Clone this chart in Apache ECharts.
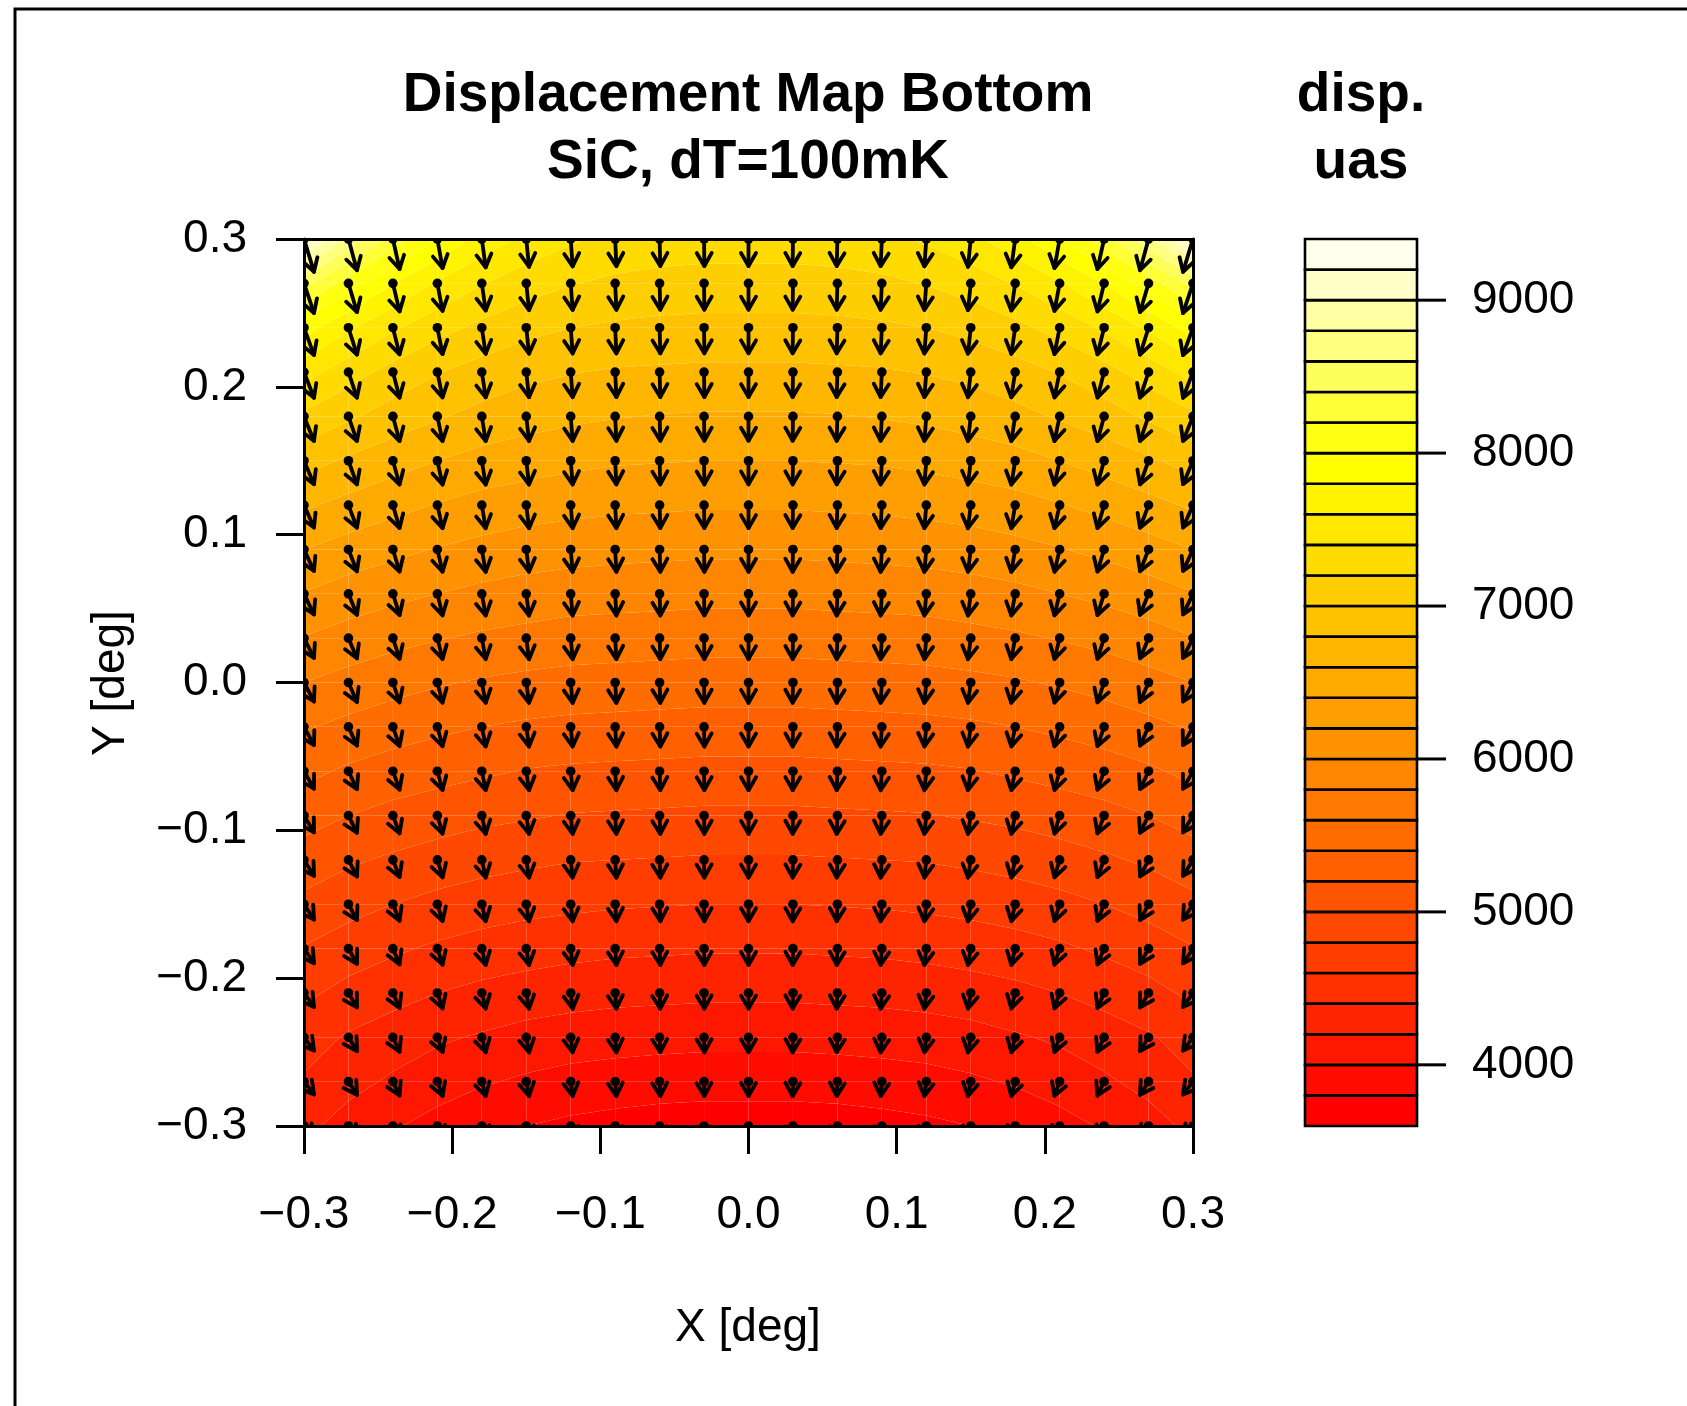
<!DOCTYPE html>
<html>
<head>
<meta charset="utf-8">
<script src="https://cdn.jsdelivr.net/npm/echarts@6/dist/echarts.min.js"></script>
<style>
  html, body { margin: 0; padding: 0; background: #ffffff; }
  #chart { width: 1687px; height: 1406px; }
</style>
</head>
<body>
<div id="chart"></div>
<script>
// Field-of-view sample grid (degrees)
const gridX = [-0.30, -0.27, -0.24, -0.21, -0.18, -0.15, -0.12, -0.09, -0.06, -0.03, 0.00,
               0.03, 0.06, 0.09, 0.12, 0.15, 0.18, 0.21, 0.24, 0.27, 0.30];
const gridY = [0.30, 0.27, 0.24, 0.21, 0.18, 0.15, 0.12, 0.09, 0.06, 0.03, 0.00,
               -0.03, -0.06, -0.09, -0.12, -0.15, -0.18, -0.21, -0.24, -0.27, -0.30];

// Displacement magnitude (uas), one row per gridY entry, columns follow gridX
const dispMagnitude = [
  [9300,8760,8320,7990,7730,7550,7430,7350,7320,7300,7300,7300,7320,7350,7430,7550,7730,7990,8320,8760,9300],
  [8470,8100,7810,7580,7410,7290,7210,7160,7130,7120,7120,7120,7130,7160,7210,7290,7410,7580,7810,8100,8470],
  [7890,7630,7430,7270,7150,7060,7000,6970,6950,6940,6940,6940,6950,6970,7000,7060,7150,7270,7430,7630,7890],
  [7480,7290,7130,7010,6920,6850,6810,6780,6770,6760,6760,6760,6770,6780,6810,6850,6920,7010,7130,7290,7480],
  [7160,7030,6910,6820,6740,6680,6640,6610,6590,6580,6580,6580,6590,6610,6640,6680,6740,6820,6910,7030,7160],
  [6880,6770,6680,6600,6530,6490,6450,6420,6410,6400,6400,6400,6410,6420,6450,6490,6530,6600,6680,6770,6880],
  [6630,6540,6460,6390,6330,6290,6260,6240,6230,6220,6220,6220,6230,6240,6260,6290,6330,6390,6460,6540,6630],
  [6400,6320,6250,6190,6140,6100,6080,6060,6050,6040,6040,6040,6050,6060,6080,6100,6140,6190,6250,6320,6400],
  [6190,6110,6050,6000,5950,5920,5890,5880,5870,5860,5860,5860,5870,5880,5890,5920,5950,6000,6050,6110,6190],
  [5990,5920,5860,5810,5770,5740,5710,5700,5690,5680,5680,5680,5690,5700,5710,5740,5770,5810,5860,5920,5990],
  [5800,5730,5670,5620,5580,5550,5530,5520,5510,5500,5500,5500,5510,5520,5530,5550,5580,5620,5670,5730,5800],
  [5620,5550,5490,5440,5400,5370,5350,5340,5330,5320,5320,5320,5330,5340,5350,5370,5400,5440,5490,5550,5620],
  [5450,5370,5310,5270,5230,5190,5170,5160,5150,5140,5140,5140,5150,5160,5170,5190,5230,5270,5310,5370,5450],
  [5280,5200,5140,5090,5050,5020,4990,4980,4970,4960,4960,4960,4970,4980,4990,5020,5050,5090,5140,5200,5280],
  [5110,5030,4970,4920,4870,4840,4810,4800,4790,4780,4780,4780,4790,4800,4810,4840,4870,4920,4970,5030,5110],
  [4950,4870,4800,4740,4700,4660,4640,4620,4610,4600,4600,4600,4610,4620,4640,4660,4700,4740,4800,4870,4950],
  [4790,4700,4630,4570,4520,4490,4460,4440,4430,4420,4420,4420,4430,4440,4460,4490,4520,4570,4630,4700,4790],
  [4640,4540,4470,4400,4350,4310,4280,4260,4250,4240,4240,4240,4250,4260,4280,4310,4350,4400,4470,4540,4640],
  [4480,4380,4300,4230,4180,4130,4100,4080,4070,4060,4060,4060,4070,4080,4100,4130,4180,4230,4300,4380,4480],
  [4380,4260,4170,4090,4020,3970,3930,3910,3890,3880,3880,3880,3890,3910,3930,3970,4020,4090,4170,4260,4380],
  [4250,4120,4020,3930,3850,3800,3760,3730,3710,3700,3700,3700,3710,3730,3760,3800,3850,3930,4020,4120,4250]
];

// Horizontal displacement component per column (uas, positive = +X)
const dispX = [2700, 2300, 1800, 1400, 1050, 750, 520, 330, 190, 80, 0,
               -80, -190, -330, -520, -750, -1050, -1400, -1800, -2300, -2700];

// Filled-contour break points (uas)
const contourLevels = [3600, 3800, 4000, 4200, 4400, 4600, 4800, 5000, 5200, 5400,
                       5600, 5800, 6000, 6200, 6400, 6600, 6800, 7000, 7200, 7400,
                       7600, 7800, 8000, 8200, 8400, 8600, 8800, 9000, 9200, 9400];

const axisTicks = [-0.3, -0.2, -0.1, 0.0, 0.1, 0.2, 0.3];
const keyTicks = [4000, 5000, 6000, 7000, 8000, 9000];

const FONT = 'Liberation Sans, Arial, Helvetica, sans-serif';
const ARROW_SCALE = 2.5e-6;   // degrees drawn per uas of displacement
const HEAD_LEN = 15;          // arrowhead barb length, px
const HEAD_ANGLE = Math.PI / 6;
const ARROW_W = 3.8;
const DOT_R = 4.8;
const AXIS_W = 3;
const KEY_TICK_LEN = 29;

// heat.colors(n) palette: red -> yellow -> pale yellow
function heatColors(n) {
  const j = Math.floor(n / 4), i = n - j;
  const hex = v => Math.round(v * 255).toString(16).padStart(2, '0');
  const out = [];
  for (let a = 0; a < i; a++) {
    const frac = i > 1 ? a / (i - 1) : 0;
    out.push('#ff' + hex(frac) + '00');
  }
  const s0 = 1 - 1 / (2 * j), s1 = 1 / (2 * j);
  for (let b = 0; b < j; b++) {
    const s = j > 1 ? s0 + b * (s1 - s0) / (j - 1) : s0;
    out.push('#ffff' + hex(1 - s));
  }
  return out;
}
const bandColors = heatColors(contourLevels.length - 1);

// Keep the part of a polygon on one side of a level (value linear along edges)
function clipPoly(poly, level, keepAbove) {
  const out = [];
  const inside = p => keepAbove ? p.v >= level : p.v <= level;
  for (let a = 0; a < poly.length; a++) {
    const P = poly[a], Q = poly[(a + 1) % poly.length];
    const pin = inside(P), qin = inside(Q);
    if (pin) out.push(P);
    if (pin !== qin) {
      const t = (level - P.v) / (Q.v - P.v);
      out.push({ x: P.x + t * (Q.x - P.x), y: P.y + t * (Q.y - P.y), v: level });
    }
  }
  return out;
}

const cellData = [];
for (let r = 0; r < gridY.length - 1; r++) {
  for (let c = 0; c < gridX.length - 1; c++) {
    cellData.push([(gridX[c] + gridX[c + 1]) / 2, (gridY[r] + gridY[r + 1]) / 2, c, r]);
  }
}
const pointData = [];
for (let r = 0; r < gridY.length; r++) {
  for (let c = 0; c < gridX.length; c++) {
    pointData.push([gridX[c], gridY[r], c, r]);
  }
}
const keyData = [];
for (let k = 0; k < bandColors.length; k++) {
  keyData.push([0.5, (contourLevels[k] + contourLevels[k + 1]) / 2, k]);
}
const keyTickData = keyTicks.map(v => [1, v]);

function renderCell(params, api) {
  const c = api.value(2), r = api.value(3);
  const corners = [[c, r], [c + 1, r], [c + 1, r + 1], [c, r + 1]].map(([ci, ri]) => {
    const p = api.coord([gridX[ci], gridY[ri]]);
    return { x: p[0], y: p[1], v: dispMagnitude[ri][ci] };
  });
  const vs = corners.map(p => p.v);
  const vmin = Math.min.apply(null, vs), vmax = Math.max.apply(null, vs);
  const children = [];
  for (let k = 0; k < bandColors.length; k++) {
    const lo = contourLevels[k], hi = contourLevels[k + 1];
    if (hi < vmin || lo > vmax) continue;
    let poly = clipPoly(corners, lo, true);
    poly = clipPoly(poly, hi, false);
    if (poly.length < 3) continue;
    children.push({
      type: 'polygon',
      shape: { points: poly.map(p => [p.x, p.y]) },
      style: { fill: bandColors[k] }
    });
  }
  return { type: 'group', children };
}

function renderArrow(params, api) {
  const x = api.value(0), y = api.value(1), c = api.value(2), r = api.value(3);
  const m = dispMagnitude[r][c], dx = dispX[c];
  const dy = -Math.sqrt(Math.max(m * m - dx * dx, 0));
  const p0 = api.coord([x, y]);
  const p1 = api.coord([x + dx * ARROW_SCALE, y + dy * ARROW_SCALE]);
  const ang = Math.atan2(p1[1] - p0[1], p1[0] - p0[0]);
  const a1 = ang + Math.PI - HEAD_ANGLE, a2 = ang + Math.PI + HEAD_ANGLE;
  const h1 = [p1[0] + HEAD_LEN * Math.cos(a1), p1[1] + HEAD_LEN * Math.sin(a1)];
  const h2 = [p1[0] + HEAD_LEN * Math.cos(a2), p1[1] + HEAD_LEN * Math.sin(a2)];
  const lineStyle = { stroke: '#000', lineWidth: ARROW_W, lineCap: 'round', lineJoin: 'round', fill: null };
  return {
    type: 'group',
    children: [
      { type: 'line', shape: { x1: p0[0], y1: p0[1], x2: p1[0], y2: p1[1] }, style: lineStyle },
      { type: 'polyline', shape: { points: [h1, p1, h2] }, style: lineStyle },
      { type: 'circle', shape: { cx: p0[0], cy: p0[1], r: DOT_R }, style: { fill: '#000' } }
    ]
  };
}

function renderKey(params, api) {
  const k = api.value(2);
  const pTop = api.coord([0, contourLevels[k + 1]]);
  const pBot = api.coord([1, contourLevels[k]]);
  return {
    type: 'rect',
    shape: { x: pTop[0], y: pTop[1], width: pBot[0] - pTop[0], height: pBot[1] - pTop[1] },
    style: { fill: bandColors[k], stroke: '#000', lineWidth: 2.6 }
  };
}

function renderKeyTick(params, api) {
  const p = api.coord([api.value(0), api.value(1)]);
  return {
    type: 'line',
    shape: { x1: p[0], y1: p[1], x2: p[0] + KEY_TICK_LEN, y2: p[1] },
    style: { stroke: '#000', lineWidth: AXIS_W }
  };
}

function degLabel(v) {
  const r = Math.round(v * 10) / 10;
  if (Math.abs(r) < 1e-9) return '0.0';
  return (r < 0 ? '\u2212' : '') + Math.abs(r).toFixed(1);
}
function keyLabel(v) {
  const r = Math.round(v);
  return keyTicks.indexOf(r) >= 0 ? String(r) : '';
}

const axisLineStyle = { color: '#000', width: AXIS_W };
const labelStyle = { fontSize: 46, fontFamily: FONT, color: '#000' };

const chart = echarts.init(document.getElementById('chart'), null, { renderer: 'canvas' });
chart.setOption({
  animation: false,
  backgroundColor: '#ffffff',
  grid: [
    { left: 304, top: 239, width: 889, height: 887, containLabel: false },
    { left: 1305, top: 239, width: 112, height: 887, containLabel: false }
  ],
  xAxis: [
    {
      gridIndex: 0, type: 'value', min: -0.3, max: 0.3, interval: 0.1, position: 'bottom', z: 10,
      axisLine: { show: true, onZero: false, lineStyle: axisLineStyle },
      axisTick: { show: true, inside: false, length: 28, lineStyle: axisLineStyle },
      axisLabel: Object.assign({ margin: 66, formatter: degLabel, showMinLabel: true, showMaxLabel: true }, labelStyle),
      splitLine: { show: false }
    },
    {
      gridIndex: 0, type: 'value', min: -0.3, max: 0.3, position: 'top', z: 10,
      axisLine: { show: true, onZero: false, lineStyle: axisLineStyle },
      axisTick: { show: false }, axisLabel: { show: false }, splitLine: { show: false }
    },
    { gridIndex: 1, type: 'value', min: 0, max: 1, show: false }
  ],
  yAxis: [
    {
      gridIndex: 0, type: 'value', min: -0.3, max: 0.3, interval: 0.1, position: 'left', z: 10,
      axisLine: { show: true, onZero: false, lineStyle: axisLineStyle },
      axisTick: { show: true, inside: false, length: 28, lineStyle: axisLineStyle },
      axisLabel: Object.assign({ margin: 57, formatter: degLabel, showMinLabel: true, showMaxLabel: true }, labelStyle),
      splitLine: { show: false }
    },
    {
      gridIndex: 0, type: 'value', min: -0.3, max: 0.3, position: 'right', z: 10,
      axisLine: { show: true, onZero: false, lineStyle: axisLineStyle },
      axisTick: { show: false }, axisLabel: { show: false }, splitLine: { show: false }
    },
    {
      gridIndex: 1, type: 'value', min: 3600, max: 9400, interval: 200, position: 'right', z: 10,
      axisLine: { show: false },
      axisTick: { show: false },
      axisLabel: Object.assign({ margin: 55, formatter: keyLabel }, labelStyle),
      splitLine: { show: false }
    }
  ],
  series: [
    {
      type: 'custom', name: 'displacement', coordinateSystem: 'cartesian2d',
      xAxisIndex: 0, yAxisIndex: 0, clip: true, silent: true, z: 2,
      renderItem: renderCell, data: cellData
    },
    {
      type: 'custom', name: 'vectors', coordinateSystem: 'cartesian2d',
      xAxisIndex: 0, yAxisIndex: 0, clip: true, silent: true, z: 3,
      renderItem: renderArrow, data: pointData
    },
    {
      type: 'custom', name: 'key', coordinateSystem: 'cartesian2d',
      xAxisIndex: 2, yAxisIndex: 2, silent: true, z: 2,
      renderItem: renderKey, data: keyData
    },
    {
      type: 'custom', name: 'keyTicks', coordinateSystem: 'cartesian2d',
      xAxisIndex: 2, yAxisIndex: 2, silent: true, z: 3,
      renderItem: renderKeyTick, data: keyTickData
    }
  ],
  graphic: [
    { type: 'rect', z: 0, shape: { x: 15, y: 9, width: 1720, height: 1440 },
      style: { fill: null, stroke: '#000', lineWidth: 3 } },
    { type: 'text', x: 748, y: 96, style: { text: 'Displacement Map Bottom', font: 'bold 55px ' + FONT,
      fill: '#000', textAlign: 'center', textVerticalAlign: 'middle' } },
    { type: 'text', x: 748, y: 163, style: { text: 'SiC, dT=100mK', font: 'bold 55px ' + FONT,
      fill: '#000', textAlign: 'center', textVerticalAlign: 'middle' } },
    { type: 'text', x: 1361, y: 96, style: { text: 'disp.', font: 'bold 55px ' + FONT,
      fill: '#000', textAlign: 'center', textVerticalAlign: 'middle' } },
    { type: 'text', x: 1361, y: 163, style: { text: 'uas', font: 'bold 55px ' + FONT,
      fill: '#000', textAlign: 'center', textVerticalAlign: 'middle' } },
    { type: 'text', x: 748, y: 1328, style: { text: 'X [deg]', font: '46px ' + FONT,
      fill: '#000', textAlign: 'center', textVerticalAlign: 'middle' } },
    { type: 'text', x: 111, y: 683, rotation: Math.PI / 2, style: { text: 'Y [deg]', font: '46px ' + FONT,
      fill: '#000', textAlign: 'center', textVerticalAlign: 'middle' } }
  ]
});
</script>
</body>
</html>
